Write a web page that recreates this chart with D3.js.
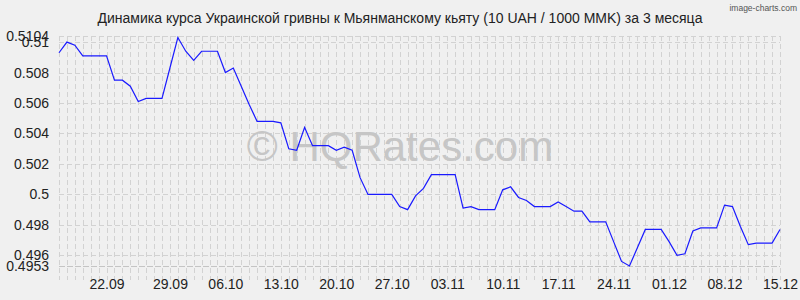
<!DOCTYPE html>
<html><head><meta charset="utf-8">
<script src="https://cdn.jsdelivr.net/npm/d3@7"></script>
<style>
html,body{margin:0;padding:0;background:#f0f0f0;}
svg{display:block;}
text{font-family:"Liberation Sans",Arial,sans-serif;}
</style></head>
<body>
<svg id="chart" width="800" height="300"></svg>
<script>
const title = "Динамика курса Украинской гривны к Мьянманскому кьяту (10 UAH / 1000 MMK) за 3 месяца";
const rates = [
0.5093,0.5100,0.5098,0.5091,0.5091,0.5091,0.5091,0.5075,0.5075,0.5071,
0.5061,0.5063,0.5063,0.5063,0.5083,0.5103,0.5094,0.5088,0.5094,0.5094,
0.5094,0.5080,0.5083,0.5071,0.5059,0.5048,0.5048,0.5048,0.5047,0.5030,
0.5029,0.5044,0.5032,0.5032,0.5032,0.5029,0.5031,0.5029,0.5011,0.5000,
0.5000,0.5000,0.5000,0.4992,0.4990,0.4999,0.5004,0.5013,0.5013,0.5013,
0.5013,0.4991,0.4992,0.4990,0.4990,0.4990,0.5003,0.5005,0.4998,0.4996,
0.4992,0.4992,0.4992,0.4995,0.4992,0.4989,0.4989,0.4982,0.4982,0.4982,
0.4969,0.4956,0.4953,0.4965,0.4977,0.4977,0.4977,0.4969,0.4960,0.4961,
0.4976,0.4978,0.4978,0.4978,0.4993,0.4992,0.4979,0.4967,0.4968,0.4968,
0.4968,0.4977
];
const xTickLabels = ["22.09","29.09","06.10","13.10","20.10","27.10","03.11","10.11","17.11","24.11","01.12","08.12","15.12"];
const xTickIndex = [6,14,21,28,35,42,49,56,63,70,77,84,91];
const yTicks = [0.4953,0.496,0.498,0.5,0.502,0.504,0.506,0.508,0.51,0.5104];
const yTickLabels = ["0.4953","0.496","0.498","0.5","0.502","0.504","0.506","0.508","0.51","0.5104"];
const yMin = 0.4953, yMax = 0.5104;

const svg = d3.select("#chart");
const L = 59, R = 780, T = 36, B = 266;
const x = d3.scaleLinear().domain([0, rates.length - 1]).range([L, R]);
const y = d3.scaleLinear().domain([yMin, yMax]).range([B, T]);

svg.append("rect").attr("width",800).attr("height",300).attr("fill","#f0f0f0");

// vertical grid (one per point)
const g = svg.append("g");
g.selectAll("line.v").data(d3.range(rates.length)).enter().append("line")
  .attr("x1", i => Math.round(x(i)) + 0.5).attr("x2", i => Math.round(x(i)) + 0.5)
  .attr("y1", T).attr("y2", B + 14)
  .attr("stroke", "#d2d2d2").attr("stroke-dasharray", "5,3");
// horizontal grid at ticks
g.selectAll("line.h").data(yTicks).enter().append("line")
  .attr("x1", L).attr("x2", R)
  .attr("y1", d => Math.round(y(d)) + 0.5).attr("y2", d => Math.round(y(d)) + 0.5)
  .attr("stroke", d => d === yMin ? "#c4c4c4" : "#d2d2d2")
  .attr("stroke-dasharray", d => d === yMin ? "6,2" : "5,3");

// watermark
svg.append("text").attr("x", 400).attr("y", 161).attr("text-anchor","middle")
  .attr("font-size", 42).attr("fill", "#c6c6c6").text("© HQRates.com");

// y axis labels
const yAxis = d3.axisLeft(y).tickValues(yTicks).tickFormat((d,i) => yTickLabels[i]).tickSize(0).tickPadding(10);
const ya = svg.append("g").attr("transform", `translate(${L},0)`).call(yAxis);
ya.select(".domain").remove();
ya.selectAll("text").attr("font-size", 14).attr("fill", "#222").attr("font-family","'Liberation Sans',Arial,sans-serif");

// x axis labels
const xAxis = d3.axisBottom(x).tickValues(xTickIndex).tickFormat((d,i) => xTickLabels[i]).tickSize(0).tickPadding(13);
const xa = svg.append("g").attr("transform", `translate(0,${B})`).call(xAxis);
xa.select(".domain").remove();
xa.selectAll("text").attr("font-size", 14).attr("fill", "#222").attr("font-family","'Liberation Sans',Arial,sans-serif");

// line
const line = d3.line().x((d,i) => x(i)).y(d => y(d));
svg.append("path").datum(rates).attr("d", line).attr("fill","none")
  .attr("stroke", "#1a1aff").attr("stroke-width", 1.2);

// title
svg.append("text").attr("x", 400).attr("y", 23).attr("text-anchor","middle")
  .attr("font-size", 14).attr("fill", "#222").text(title);
svg.append("text").attr("x", 797).attr("y", 11).attr("text-anchor","end")
  .attr("font-size", 8.5).attr("font-family","'DejaVu Sans Mono',monospace").attr("fill","#555").text("image-charts.com");
</script>
</body></html>
